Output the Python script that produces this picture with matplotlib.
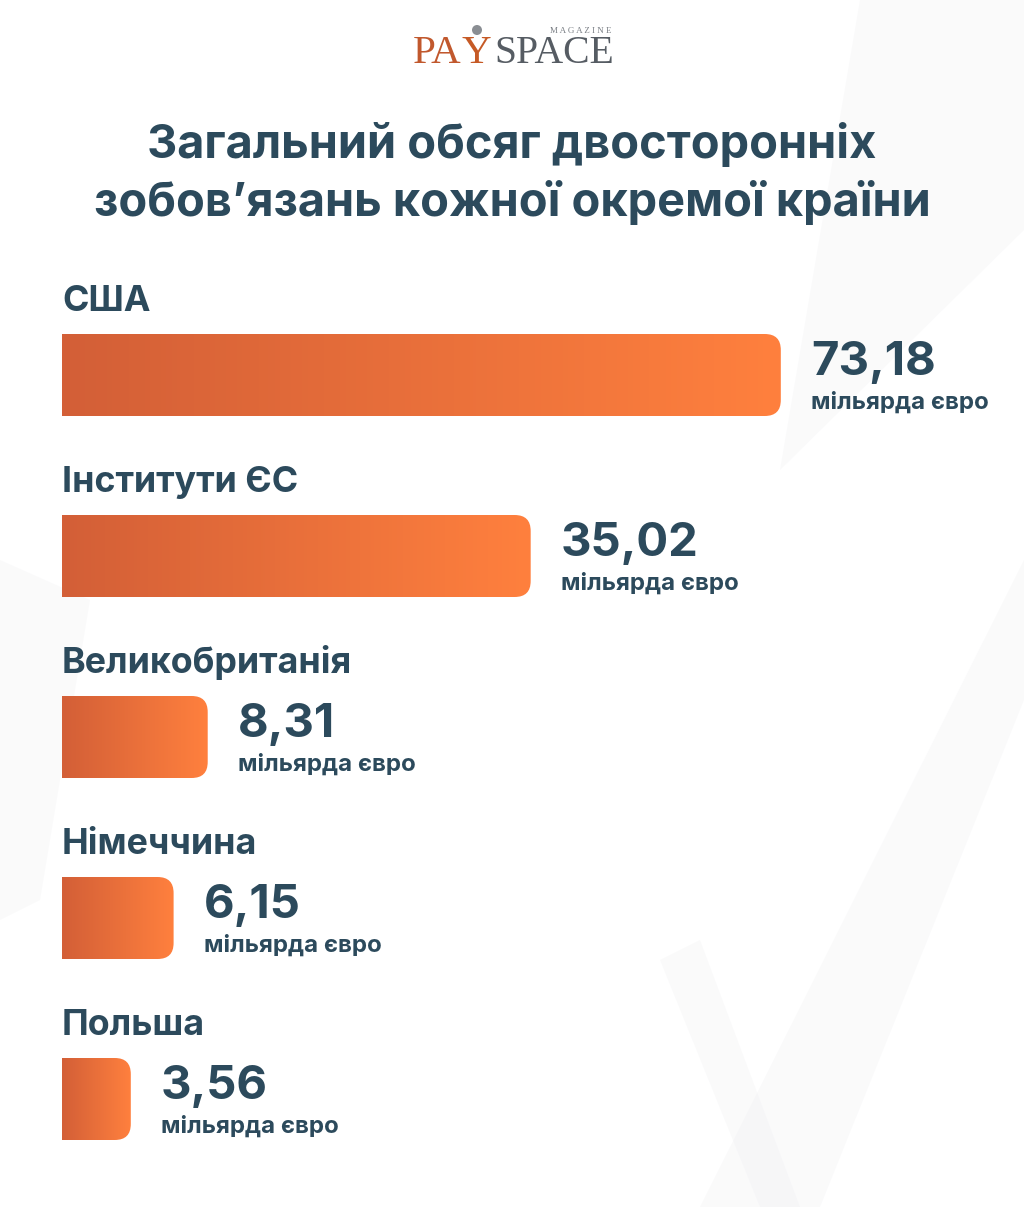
import matplotlib.pyplot as plt
import numpy as np
from matplotlib.colors import LinearSegmentedColormap
from matplotlib.patches import Circle, PathPatch, Polygon
from matplotlib.path import Path

# ============================================================
# Data
# ============================================================
countries = ["США", "Інститути ЄС", "Великобританія", "Німеччина", "Польша"]
values = [73.18, 35.02, 8.31, 6.15, 3.56]
value_labels = ["73,18", "35,02", "8,31", "6,15", "3,56"]
unit = "мільярда євро"
title = "Загальний обсяг двосторонніх\nзобов’язань кожної окремої країни"

# ============================================================
# Style
# ============================================================
W, H = 1024, 1207
plt.rcParams["font.family"] = ["Inter", "DejaVu Sans"]
TEXT = "#2C4A5C"
bar_cmap = LinearSegmentedColormap.from_list("bar", ["#D35F37", "#FF803E"])
bar_h = 0.453
radius = 16
SAT = 52.0  # saturation constant of the (compressed) value scale

fig = plt.figure(figsize=(W / 100, H / 100), dpi=100)
fig.patch.set_facecolor("white")

# full-figure canvas in pixel units (y down)
canvas = fig.add_axes([0, 0, 1, 1])
canvas.set_xlim(0, W)
canvas.set_ylim(H, 0)
canvas.axis("off")

# faint background streaks
streaks = [
    [(860, 0), (1024, 0), (1024, 230), (780, 470)],
    [(0, 560), (90, 600), (40, 900), (0, 920)],
    [(660, 960), (700, 940), (800, 1207), (760, 1207)],
    [(1024, 560), (1024, 700), (820, 1207), (700, 1207)],
]
for pts in streaks:
    canvas.add_patch(Polygon(pts, closed=True, facecolor="#F1F1F3",
                             edgecolor="none", alpha=0.35, zorder=0))

# ============================================================
# Value axis (saturating scale) used to place the bars
# ============================================================
def fwd(v):
    return 1 - np.exp(-np.asarray(v, dtype=float) / SAT)


def inv(u):
    return -SAT * np.log(np.clip(1 - np.asarray(u, dtype=float), 1e-12, None))


ax = fig.add_axes([62 / W, 17.5 / H, 900 / W, 905 / H])
ax.set_xscale("function", functions=(fwd, inv))
ax.set_xlim(-0.35, 153)
ax.set_ylim(len(values) - 0.5, -0.5)
ax.axis("off")


def to_canvas(pt):
    return canvas.transData.inverted().transform(ax.transData.transform(pt))


grad = np.linspace(0, 1, 256).reshape(1, -1)

for i, (name, v, lab) in enumerate(zip(countries, values, value_labels)):
    x0, _ = to_canvas((ax.get_xlim()[0], i))
    x1, top = to_canvas((v, i - bar_h / 2))
    _, bot = to_canvas((v, i + bar_h / 2))
    r = radius
    verts = [
        (x0, top), (x1 - r, top), (x1, top), (x1, top + r),
        (x1, bot - r), (x1, bot), (x1 - r, bot), (x0, bot), (x0, top),
    ]
    codes = [
        Path.MOVETO, Path.LINETO, Path.CURVE3, Path.CURVE3,
        Path.LINETO, Path.CURVE3, Path.CURVE3, Path.LINETO, Path.CLOSEPOLY,
    ]
    patch = PathPatch(Path(verts, codes), facecolor="none", edgecolor="none")
    canvas.add_patch(patch)
    im = canvas.imshow(grad, cmap=bar_cmap, extent=(x0, x1, bot, top),
                       aspect="auto", zorder=2, interpolation="bilinear")
    im.set_clip_path(patch)

    canvas.text(x0, top - 23, name, fontsize=25.8, fontweight="bold",
                color=TEXT, ha="left", va="baseline")
    canvas.text(x1 + 30, top + 41, lab, fontsize=34, fontweight="bold",
                color=TEXT, ha="left", va="baseline")
    canvas.text(x1 + 30, top + 75, unit, fontsize=17.3, fontweight="bold",
                color=TEXT, ha="left", va="baseline")

canvas.set_xlim(0, W)
canvas.set_ylim(H, 0)

# ============================================================
# Title
# ============================================================
line1, line2 = title.split("\n")
canvas.text(W / 2, 158, line1, fontsize=33.8, fontweight="bold",
            color=TEXT, ha="center", va="baseline")
canvas.text(W / 2, 216, line2, fontsize=33.8, fontweight="bold",
            color=TEXT, ha="center", va="baseline")

# ============================================================
# Logo
# ============================================================
serif = ["Liberation Serif", "DejaVu Serif"]
canvas.text(413, 63, "PA", fontsize=29.5, family=serif, color="#C1582D",
            ha="left", va="baseline")
canvas.text(461, 63, "Y", fontsize=29.5, family=serif, color="#C65A26",
            ha="left", va="baseline")
canvas.add_patch(Circle((477, 30), 5, facecolor="#8A8E93",
                        edgecolor="none", zorder=3))
canvas.text(494, 63, "SPACE", fontsize=28.5, family=serif, color="#565C63",
            ha="left", va="baseline")
canvas.text(612, 33, " ".join("MAGAZINE"), fontsize=6.5, family=serif,
            color="#7A7F85", ha="right", va="baseline")

fig.savefig("out.png", dpi=100, facecolor="white")
